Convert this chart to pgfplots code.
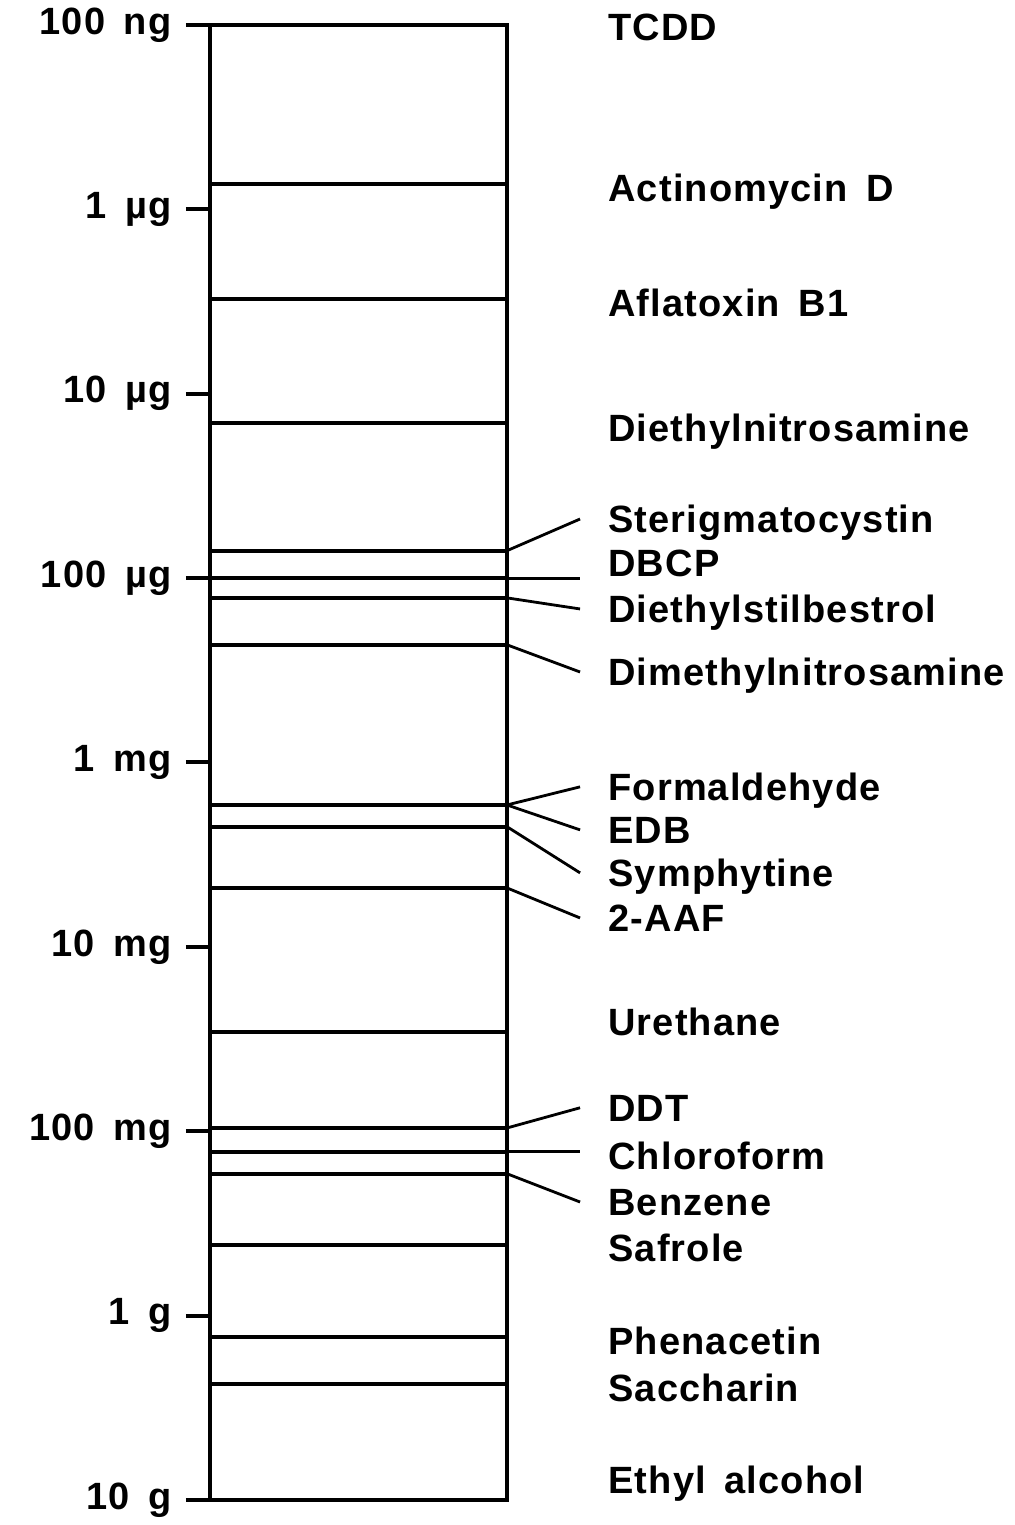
\documentclass[border=0pt]{standalone}
\usepackage{fontspec}
\setmainfont{Liberation Sans}[LetterSpace=3,WordSpace=1.6]
\usepackage{pgfplots}
\pgfplotsset{compat=1.18}

\newcommand{\lab}{\fontsize{19}{22}\selectfont\bfseries}
\tikzset{lbl/.style={anchor=west, font=\lab, inner sep=0pt,
    text height=13.7pt, text depth=0pt}}

\begin{document}
\begin{tikzpicture}
\begin{axis}[
    scale only axis,
    width=148.5pt, height=737.5pt,
    xmin=0, xmax=1,
    ymode=log, ymin=1e-7, ymax=10,
    y dir=reverse,
    xtick=\empty,
    ytick={1e-7,1e-6,1e-5,1e-4,1e-3,1e-2,1e-1,1,10},
    yticklabels={100 ng,1 µg,10 µg,100 µg,1 mg,10 mg,100 mg,1 g,10 g},
    yminorticks=false,
    ytick pos=left,
    tick align=outside,
    major tick length=12pt,
    every tick/.style={black, line width=2pt},
    axis line style={line width=2.2pt},
    yticklabel style={font=\lab, inner sep=7pt},
    clip=false,
  ]
  % dividing lines (dose in g)
  \addplot[line width=2pt] coordinates {(0,7.28e-7) (1,7.28e-7)};
  \addplot[line width=2pt] coordinates {(0,3.06e-6) (1,3.06e-6)};
  \addplot[line width=2pt] coordinates {(0,1.44e-5) (1,1.44e-5)};
  \addplot[line width=2pt] coordinates {(0,7.1e-5) (1,7.1e-5)};
  \addplot[line width=2pt] coordinates {(0,1.0e-4) (1,1.0e-4)};
  \addplot[line width=2pt] coordinates {(0,1.28e-4) (1,1.28e-4)};
  \addplot[line width=2pt] coordinates {(0,2.3e-4) (1,2.3e-4)};
  \addplot[line width=2pt] coordinates {(0,1.70e-3) (1,1.70e-3)};
  \addplot[line width=2pt] coordinates {(0,2.23e-3) (1,2.23e-3)};
  \addplot[line width=2pt] coordinates {(0,4.79e-3) (1,4.79e-3)};
  \addplot[line width=2pt] coordinates {(0,2.89e-2) (1,2.89e-2)};
  \addplot[line width=2pt] coordinates {(0,0.096) (1,0.096)};
  \addplot[line width=2pt] coordinates {(0,0.129) (1,0.129)};
  \addplot[line width=2pt] coordinates {(0,0.170) (1,0.170)};
  \addplot[line width=2pt] coordinates {(0,0.413) (1,0.413)};
  \addplot[line width=2pt] coordinates {(0,1.30) (1,1.30)};
  \addplot[line width=2pt] coordinates {(0,2.34) (1,2.34)};

  % leader lines
  \addplot[line width=1.4pt] coordinates {(1,7.1e-5) (1.246,4.78e-5)};
  \addplot[line width=1.4pt] coordinates {(1,1.0e-4) (1.246,1.0e-4)};
  \addplot[line width=1.4pt] coordinates {(1,1.28e-4) (1.246,1.47e-4)};
  \addplot[line width=1.4pt] coordinates {(1,2.3e-4) (1.246,3.23e-4)};
  \addplot[line width=1.4pt] coordinates {(1,1.70e-3) (1.246,1.355e-3)};
  \addplot[line width=1.4pt] coordinates {(1,1.70e-3) (1.246,2.32e-3)};
  \addplot[line width=1.4pt] coordinates {(1,2.23e-3) (1.246,3.97e-3)};
  \addplot[line width=1.4pt] coordinates {(1,4.79e-3) (1.246,6.97e-3)};
  \addplot[line width=1.4pt] coordinates {(1,0.096) (1.246,0.0746)};
  \addplot[line width=1.4pt] coordinates {(1,0.129) (1.246,0.129)};
  \addplot[line width=1.4pt] coordinates {(1,0.170) (1.246,0.242)};

  \node[lbl] at (axis cs:1.34,1.025e-7) {TCDD};
  \node[lbl] at (axis cs:1.34,7.66e-7) {Actinomycin D};
  \node[lbl] at (axis cs:1.34,3.22e-6) {Aflatoxin B1};
  \node[lbl] at (axis cs:1.34,1.53e-5) {Diethylnitrosamine};
  \node[lbl] at (axis cs:1.34,4.78e-5) {Sterigmatocystin};
  \node[lbl] at (axis cs:1.34,8.28e-5) {DBCP};
  \node[lbl] at (axis cs:1.34,1.47e-4) {Diethylstilbestrol};
  \node[lbl] at (axis cs:1.34,3.23e-4) {Dimethylnitrosamine};
  \node[lbl] at (axis cs:1.34,1.355e-3) {Formaldehyde};
  \node[lbl] at (axis cs:1.34,2.32e-3) {EDB};
  \node[lbl] at (axis cs:1.34,3.97e-3) {Symphytine};
  \node[lbl] at (axis cs:1.34,6.97e-3) {2-AAF};
  \node[lbl] at (axis cs:1.34,2.55e-2) {Urethane};
  \node[lbl] at (axis cs:1.34,0.0746) {DDT};
  \node[lbl] at (axis cs:1.34,0.136) {Chloroform};
  \node[lbl] at (axis cs:1.34,0.242) {Benzene};
  \node[lbl] at (axis cs:1.34,0.429) {Safrole};
  \node[lbl] at (axis cs:1.34,1.37) {Phenacetin};
  \node[lbl] at (axis cs:1.34,2.47) {Saccharin};
  \node[lbl] at (axis cs:1.34,7.77) {Ethyl alcohol};
\end{axis}
\pgfresetboundingbox
\path[use as bounding box] (current axis.south west) ++(-105pt,-12.5pt) rectangle ++(507pt,762.5pt);
\end{tikzpicture}
\end{document}
